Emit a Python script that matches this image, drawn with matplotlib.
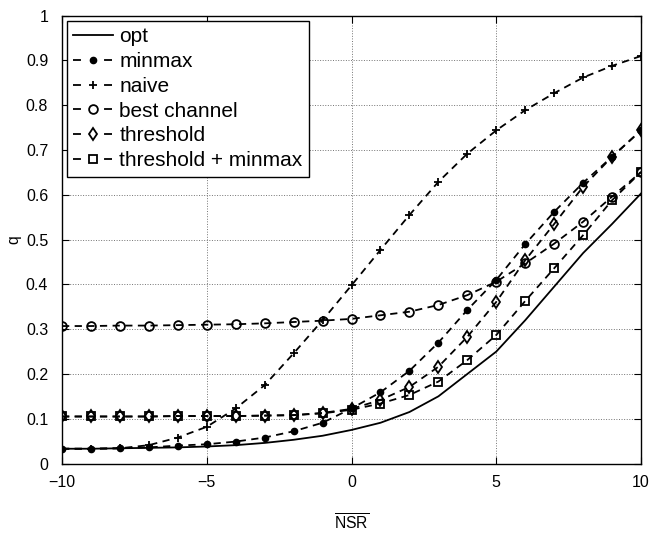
import matplotlib.pyplot as plt
from matplotlib.lines import Line2D
import numpy as np

plt.rcParams['font.family'] = ['Liberation Sans', 'DejaVu Sans']
plt.rcParams['mathtext.fontset'] = 'custom'
plt.rcParams['mathtext.rm'] = 'Liberation Sans'

nsr = np.arange(-10, 11)

opt = [0.033, 0.033, 0.034, 0.035, 0.036, 0.038, 0.041, 0.046, 0.053, 0.062, 0.075,
       0.091, 0.115, 0.150, 0.200, 0.250, 0.320, 0.395, 0.470, 0.535, 0.603]
minmax = [0.033, 0.033, 0.034, 0.036, 0.040, 0.043, 0.049, 0.058, 0.072, 0.091, 0.123,
          0.159, 0.207, 0.270, 0.343, 0.410, 0.490, 0.562, 0.627, 0.685, 0.744]
naive = [0.033, 0.033, 0.034, 0.041, 0.058, 0.082, 0.123, 0.175, 0.246, 0.320, 0.398,
         0.477, 0.555, 0.629, 0.692, 0.744, 0.789, 0.827, 0.862, 0.888, 0.910]
best_channel = [0.307, 0.307, 0.308, 0.308, 0.309, 0.310, 0.311, 0.313, 0.316, 0.319, 0.323,
                0.331, 0.339, 0.354, 0.376, 0.406, 0.447, 0.491, 0.540, 0.596, 0.651]
threshold = [0.105, 0.105, 0.105, 0.105, 0.106, 0.106, 0.106, 0.107, 0.108, 0.113, 0.122,
             0.142, 0.171, 0.216, 0.283, 0.361, 0.454, 0.535, 0.618, 0.685, 0.744]
thr_minmax = [0.105, 0.105, 0.105, 0.105, 0.106, 0.106, 0.106, 0.107, 0.108, 0.112, 0.120,
              0.134, 0.153, 0.183, 0.231, 0.287, 0.363, 0.436, 0.510, 0.588, 0.651]

labels = ["opt", "minmax", "naive", "best channel", "threshold", "threshold + minmax"]

fig = plt.figure(figsize=(6.55, 5.34), dpi=100)
ax = fig.add_axes([0.0947, 0.132, 0.884, 0.8386])

dash = (0, (4, 3))
lw = 1.3
styles = [
    dict(ls="-"),
    dict(ls=dash, marker="o", ms=4.5, mfc="k", mec="k"),
    dict(ls=dash, marker="+", ms=6, mew=1.3),
    dict(ls=dash, marker="o", ms=6.3, mfc="none", mec="k", mew=1.3),
    dict(ls=dash, marker="d", ms=6.5, mfc="none", mec="k", mew=1.3),
    dict(ls=dash, marker="s", ms=5.5, mfc="none", mec="k", mew=1.3),
]
series = [opt, minmax, naive, best_channel, threshold, thr_minmax]
for vals, st in zip(series, styles):
    ax.plot(nsr, vals, color="k", lw=lw, **st)

ax.set_xlim(-10, 10)
ax.set_ylim(0, 1)
ax.set_xticks([-10, -5, 0, 5, 10])
ax.set_xticklabels(["\u221210", "\u22125", "0", "5", "10"])
ax.set_yticks(np.arange(0, 1.01, 0.1))
ax.set_yticklabels(["0", "0.1", "0.2", "0.3", "0.4", "0.5", "0.6", "0.7", "0.8", "0.9", "1"])
ax.tick_params(direction="in", top=True, right=True, length=5, labelsize=11.5, width=0.8)
ax.tick_params(axis="y", pad=10)
ax.tick_params(axis="x", pad=8)
ax.grid(True, ls=":", color="0.45", lw=0.7)
for s in ax.spines.values():
    s.set_linewidth(1.0)

ax.set_xlabel(r"$\overline{\mathrm{NSR}}$", fontsize=11.3, labelpad=17)
ax.set_ylabel("q", fontsize=11.3, labelpad=3)

# legend proxies: "- marker -" look
handles = []
for st in styles:
    h = dict(st)
    if h["ls"] != "-":
        h["ls"] = (0, (4.4, 12.8))
    handles.append(Line2D([], [], color="k", lw=lw, **h))

leg = ax.legend(handles, labels, loc="upper left", fontsize=15, handlelength=1.9,
                labelspacing=0.28, borderaxespad=0.25, fancybox=False, edgecolor="k",
                framealpha=1, handletextpad=0.3, borderpad=0.3)
leg.get_frame().set_linewidth(1.0)

plt.savefig("out.png", dpi=100)
